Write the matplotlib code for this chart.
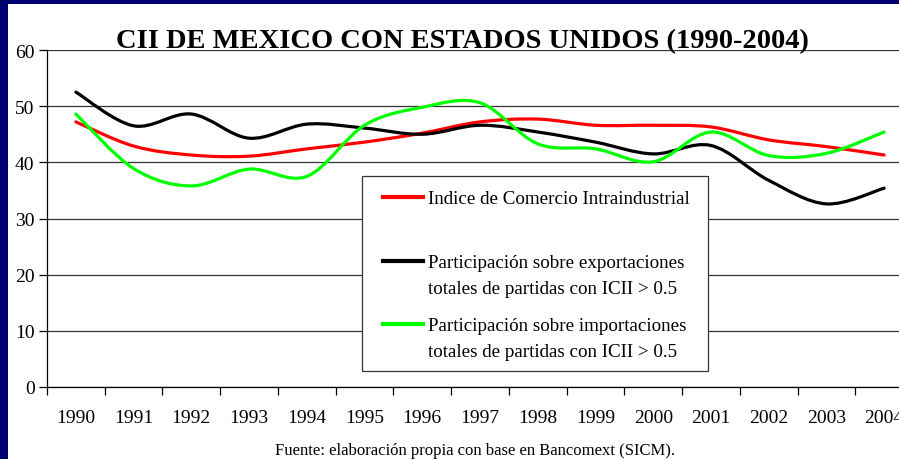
import matplotlib
matplotlib.use("Agg")
import matplotlib.pyplot as plt
import numpy as np
from matplotlib.path import Path
from matplotlib.patches import PathPatch, Rectangle
from matplotlib.lines import Line2D

years = ["1990", "1991", "1992", "1993", "1994", "1995", "1996", "1997",
         "1998", "1999", "2000", "2001", "2002", "2003", "2004"]
cii = [47.2, 42.9, 41.3, 41.1, 42.4, 43.6, 45.2, 47.2, 47.7, 46.6, 46.6, 46.3, 44.0, 42.8, 41.3]
export_share = [52.5, 46.5, 48.6, 44.3, 46.8, 46.1, 45.0, 46.6, 45.4, 43.6, 41.5, 43.0, 36.8, 32.6, 35.4]
import_share = [48.6, 38.9, 35.8, 38.8, 37.5, 46.6, 49.8, 50.6, 43.3, 42.4, 40.1, 45.4, 41.2, 41.6, 45.4]

series_labels = [
    "Indice de Comercio Intraindustrial",
    "Participación sobre exportaciones\ntotales de partidas con ICII > 0.5",
    "Participación sobre importaciones\ntotales de partidas con ICII > 0.5",
]
series_colors = ["#ff0000", "#000000", "#00ff00"]

W, H = 899, 460
SERIF = ["Liberation Serif", "DejaVu Serif"]
plt.rcParams["font.family"] = SERIF


def px(x, y):
    return x / W, 1 - y / H


def smooth_path(xs, ys, k=1 / 6):
    # Excel-style smoothed line: cubic Bezier through each point
    pts = np.column_stack([xs, ys]).astype(float)
    n = len(pts)
    verts = [pts[0]]
    codes = [Path.MOVETO]
    for i in range(n - 1):
        p0 = pts[i - 1] if i > 0 else pts[i]
        p1, p2 = pts[i], pts[i + 1]
        p3 = pts[i + 2] if i + 2 < n else pts[i + 1]
        c1 = p1 + (p2 - p0) * k
        c2 = p2 - (p3 - p1) * k
        verts += [c1, c2, p2]
        codes += [Path.CURVE4] * 3
    return Path(verts, codes)


fig = plt.figure(figsize=(W / 100, H / 100), dpi=100)
fig.patch.set_facecolor("#000070")
fig.add_artist(Rectangle(px(8, H), (W - 8) / W, (H - 5) / H,
                         transform=fig.transFigure, facecolor="white",
                         edgecolor="none", zorder=0))

x0, x1 = px(47, 0)[0], px(913, 0)[0]
ybot, ytop = px(0, 388)[1], px(0, 51)[1]
ax = fig.add_axes([x0, ybot, x1 - x0, ytop - ybot])
ax.set_facecolor("none")

x = np.arange(len(years))
for vals, color in zip([cii, export_share, import_share], series_colors):
    ax.add_patch(PathPatch(smooth_path(x, vals), facecolor="none",
                           edgecolor=color, linewidth=2.3,
                           capstyle="round", joinstyle="round", zorder=3))

ax.set_xlim(-0.5, len(years) - 0.5)
ax.set_ylim(0, 60)
ax.set_yticks(range(0, 61, 10))
ax.yaxis.grid(True, color="#333333", linewidth=0.9)
ax.set_axisbelow(True)
ax.set_xticks(np.arange(-0.5, len(years), 1.0))
ax.set_xticklabels([])
ax.set_xticks(x, minor=True)
ax.set_xticklabels(years, minor=True)
ax.tick_params(axis="x", which="major", direction="out", length=6, width=0.9)
ax.tick_params(axis="x", which="minor", length=0, pad=16, labelsize=14)
ax.tick_params(axis="y", direction="out", length=6, width=0.9, pad=3, labelsize=14)
for side in ["top", "right"]:
    ax.spines[side].set_visible(False)
for side in ["left", "bottom"]:
    ax.spines[side].set_linewidth(0.9)

# title and source note
fig.text(*px(462, 48), "CII DE MEXICO CON ESTADOS UNIDOS (1990-2004)",
         ha="center", va="baseline", fontsize=20.5, fontweight="bold")
fig.text(*px(475, 455), "Fuente: elaboración propia con base en Bancomext (SICM).",
         ha="center", va="baseline", fontsize=12)

# legend box, handle aligned with the first text line
lx0, ly0, lx1, ly1 = 362, 177, 708, 372
fig.add_artist(Rectangle(px(lx0, ly1), (lx1 - lx0) / W, (ly1 - ly0) / H,
                         transform=fig.transFigure, facecolor="white",
                         edgecolor="#333333", linewidth=0.9, zorder=5))
legend_y = [198, 262, 325]
for label, color, yy in zip(series_labels, series_colors, legend_y):
    fig.add_artist(Line2D([px(383, 0)[0], px(423, 0)[0]], [px(0, yy)[1]] * 2,
                          transform=fig.transFigure, color=color,
                          linewidth=3, zorder=6))
    for j, line in enumerate(label.split("\n")):
        fig.text(px(428, 0)[0], px(0, yy + 6 + 26 * j)[1], line, ha="left",
                 va="baseline", fontsize=13.7, zorder=7)

fig.savefig("out.png", dpi=100, facecolor=fig.get_facecolor())
